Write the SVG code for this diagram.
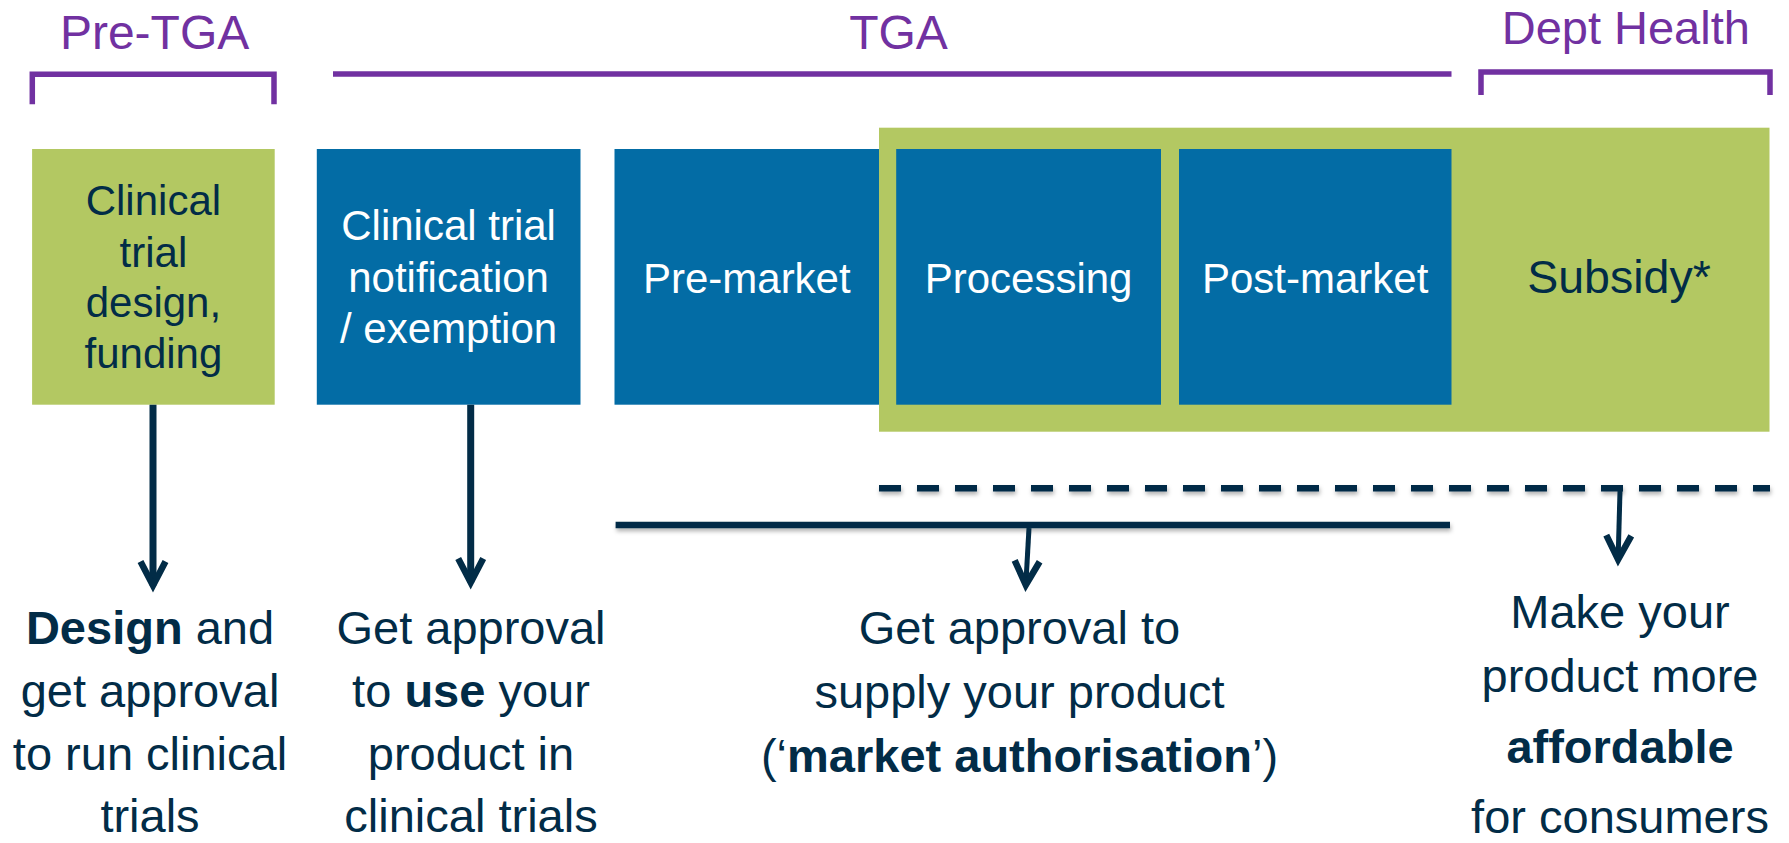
<svg xmlns="http://www.w3.org/2000/svg" width="1789" height="843" viewBox="0 0 1789 843">
<style>
text{font-family:"Liberation Sans",Arial,Helvetica,sans-serif;text-anchor:middle}
.hdr{font-size:48px;fill:#7131A1}
.brk{fill:none;stroke:#7131A1;stroke-width:5.5;stroke-linejoin:miter;stroke-linecap:butt}
.green{fill:#B3C862}
.blue{fill:#036CA5}
.wt{font-size:42px;fill:#FFFFFF}
.nt{font-size:42px;fill:#022C47}
.out{font-size:47px;fill:#022C47}
b,.b{font-weight:bold}
.arr{fill:none;stroke:#022C47;marker-end:url(#head)}
.bar{fill:none;stroke:#022C47;stroke-width:6.5;filter:url(#sh)}
</style>
<defs>
<marker id="head" markerUnits="userSpaceOnUse" orient="auto" refX="0" refY="0" markerWidth="60" markerHeight="60" viewBox="-40 -30 60 60" overflow="visible">
<path d="M-24,-12.5 L0,0 L-24,12.5" fill="none" stroke="#022C47" stroke-width="6.5" stroke-linejoin="miter" stroke-miterlimit="10"/>
</marker>
<filter id="sh" filterUnits="userSpaceOnUse" x="0" y="0" width="1789" height="843">
<feDropShadow dx="1" dy="3" stdDeviation="2" flood-color="#000" flood-opacity="0.3"/>
</filter>
</defs>
<rect width="1789" height="843" fill="#FFFFFF"/>

<g id="headers">
<text class="hdr" x="154.6" y="49.3">Pre-TGA</text>
<text class="hdr" x="898.5" y="49.3">TGA</text>
<text class="hdr" x="1625.8" y="44.3" style="font-size:47px">Dept Health</text>
<path class="brk" d="M32.3,104.3 V74.2 H274 V104.3"/>
<path class="brk" d="M333,74 H1451.5"/>
<path class="brk" d="M1481,95 V72 H1770 V95"/>
</g>

<g id="subsidy">
<rect class="green" x="879" y="127.7" width="890.5" height="304"/>
<text class="nt" x="1619" y="293.3" style="font-size:46.5px">Subsidy*</text>
</g>

<g id="design">
<rect class="green" x="32.1" y="149" width="242.6" height="255.7"/>
<text class="nt" x="153.4" y="215">Clinical</text>
<text class="nt" x="153.4" y="266.7">trial</text>
<text class="nt" x="153.4" y="316.7">design,</text>
<text class="nt" x="153.4" y="368.3">funding</text>
</g>

<g id="notification">
<rect class="blue" x="316.8" y="149" width="263.7" height="255.7"/>
<text class="wt" x="448.6" y="240">Clinical trial</text>
<text class="wt" x="448.6" y="292.3">notification</text>
<text class="wt" x="448.6" y="343.3">/ exemption</text>
</g>

<g id="premarket">
<rect class="blue" x="614.5" y="149" width="264.5" height="255.7"/>
<text class="wt" x="746.8" y="293.3">Pre-market</text>
</g>

<g id="processing">
<rect class="blue" x="896.2" y="149" width="264.8" height="255.7"/>
<text class="wt" x="1028.6" y="293.3">Processing</text>
</g>

<g id="postmarket">
<rect class="blue" x="1179" y="149" width="272.5" height="255.7"/>
<text class="wt" x="1315.2" y="293.3">Post-market</text>
</g>

<g id="connectors">
<path class="bar" d="M615.6,525 H1450"/>
<path class="bar" d="M879,488.3 H1770" stroke-dasharray="22 16"/>
<path class="arr" stroke-width="7" d="M153,404.7 V585.5"/>
<path class="arr" stroke-width="7" d="M470.7,404.7 V582.5"/>
<path class="arr" stroke-width="5" d="M1029,528 L1025.8,585"/>
<path class="arr" stroke-width="5" d="M1620,491 L1618.1,559.5"/>
</g>

<g id="out-design">
<text class="out" x="150" y="644"><tspan class="b">Design</tspan> and</text>
<text class="out" x="150" y="706.7">get approval</text>
<text class="out" x="150" y="770">to run clinical</text>
<text class="out" x="150" y="832.3">trials</text>
</g>

<g id="out-use">
<text class="out" x="471" y="644">Get approval</text>
<text class="out" x="471" y="706.7">to <tspan class="b">use</tspan> your</text>
<text class="out" x="471" y="770">product in</text>
<text class="out" x="471" y="832.3">clinical trials</text>
</g>

<g id="out-market">
<text class="out" x="1019.5" y="644">Get approval to</text>
<text class="out" x="1019.5" y="708.3">supply your product</text>
<text class="out" x="1019.5" y="771.7">(‘<tspan class="b">market authorisation</tspan>’)</text>
</g>

<g id="out-subsidy">
<text class="out" x="1620" y="628.3">Make your</text>
<text class="out" x="1620" y="691.7">product more</text>
<text class="out b" x="1620" y="763.3">affordable</text>
<text class="out" x="1620" y="833.3">for consumers</text>
</g>
</svg>
